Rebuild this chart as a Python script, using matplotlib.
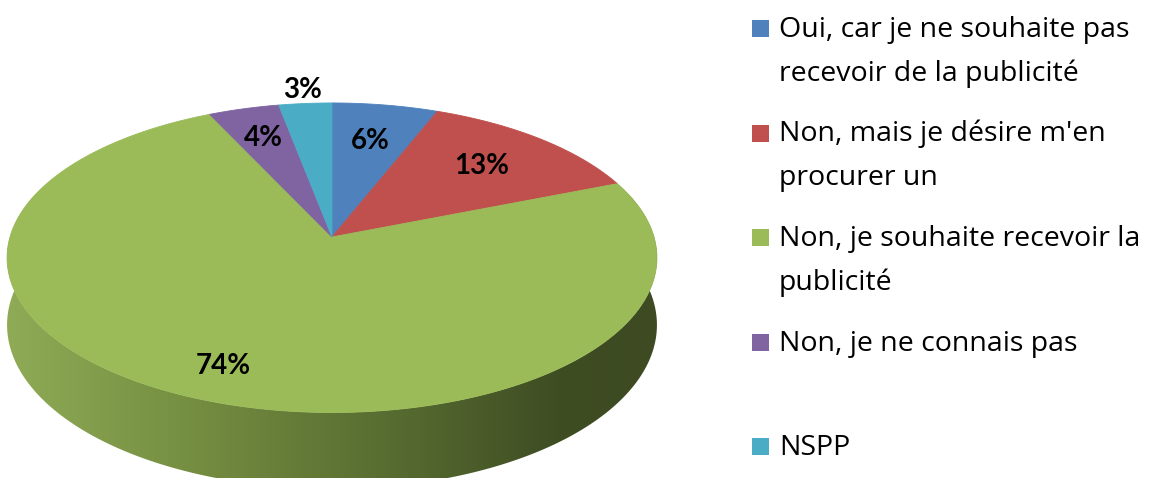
import numpy as np
import matplotlib
matplotlib.use("Agg")
import matplotlib.pyplot as plt
from matplotlib.patches import Polygon, Rectangle
from matplotlib.colors import LinearSegmentedColormap

plt.rcParams["font.family"] = ["Lato", "DejaVu Sans"]

# data
labels = [
    "Oui, car je ne souhaite pas\nrecevoir de la publicité",
    "Non, mais je désire m'en\nprocurer un",
    "Non, je souhaite recevoir la\npublicité",
    "Non, je ne connais pas",
    "NSPP",
]
values = [6, 13, 74, 4, 3]
colors = ["#4F81BD", "#C0504D", "#9BBB59", "#8064A2", "#4BACC6"]

# pie geometry (pixels), perspective factor and thickness
cx, cy = 332, 237
R, B = 322, 152
p = 0.134
depth = 66
lab_r = [0.7, 0.7, 0.82, 0.75, 1.12]


def proj(t, r=1.0, h=0.0):
    # t in degrees, clockwise from 12 o'clock
    t = np.radians(t)
    x3 = r * np.sin(t)
    z3 = r * np.cos(t)
    d = 1 + p * z3
    return cx + R * x3 / d, cy + (-B * z3 + depth * h) / d


fig = plt.figure(figsize=(11.65, 4.78), dpi=100)
ax = fig.add_axes([0, 0, 1, 1])
ax.set_xlim(0, 1165)
ax.set_ylim(478, 0)
ax.axis("off")

# side of the pie (only the green slice is visible on the front)
ts = np.linspace(70, 290, 300)
xt, yt = proj(ts)
xb, yb = proj(ts[::-1], h=1.0)
side = Polygon(np.column_stack([np.r_[xt, xb], np.r_[yt, yb]]), closed=True,
               facecolor="none", edgecolor="none")
ax.add_patch(side)
side_cmap = LinearSegmentedColormap.from_list(
    "side", [(0, "#8fab56"), (0.3, "#738c40"), (0.6, "#566b30"),
             (0.85, "#3f4d23"), (1, "#3d4a22")])
grad = np.linspace(0, 1, 256).reshape(1, -1)
img = ax.imshow(grad, cmap=side_cmap, aspect="auto",
                extent=[xt.min(), xt.max(), yb.max(), yt.min()], zorder=1)
img.set_clip_path(side)

# top face
bounds = np.r_[0, np.cumsum(values)] / sum(values) * 360
for i, v in enumerate(values):
    tt = np.linspace(bounds[i], bounds[i + 1], 200)
    px, py = proj(tt)
    poly = Polygon(np.column_stack([np.r_[cx, px], np.r_[cy, py]]), closed=True,
                   facecolor=colors[i], edgecolor=colors[i], linewidth=0.6, zorder=2)
    ax.add_patch(poly)

# data labels
for i, v in enumerate(values):
    mid = (bounds[i] + bounds[i + 1]) / 2
    lx, ly = proj(mid, lab_r[i])
    ax.text(lx, ly, f"{v}%", ha="center", va="center", fontsize=20,
            fontweight="bold", color="black", zorder=3)

# legend
for i, lab in enumerate(labels):
    base = 37 + i * 104.5
    ax.add_patch(Rectangle((752, base - 17), 17, 17, facecolor=colors[i],
                           edgecolor="none", zorder=3))
    for k, line in enumerate(lab.split("\n")):
        ax.text(779, base + k * 44, line, ha="left", va="baseline",
                fontsize=20.5, family=["Open Sans", "DejaVu Sans"],
                color="black", zorder=3)

fig.savefig("out.png", dpi=100)
